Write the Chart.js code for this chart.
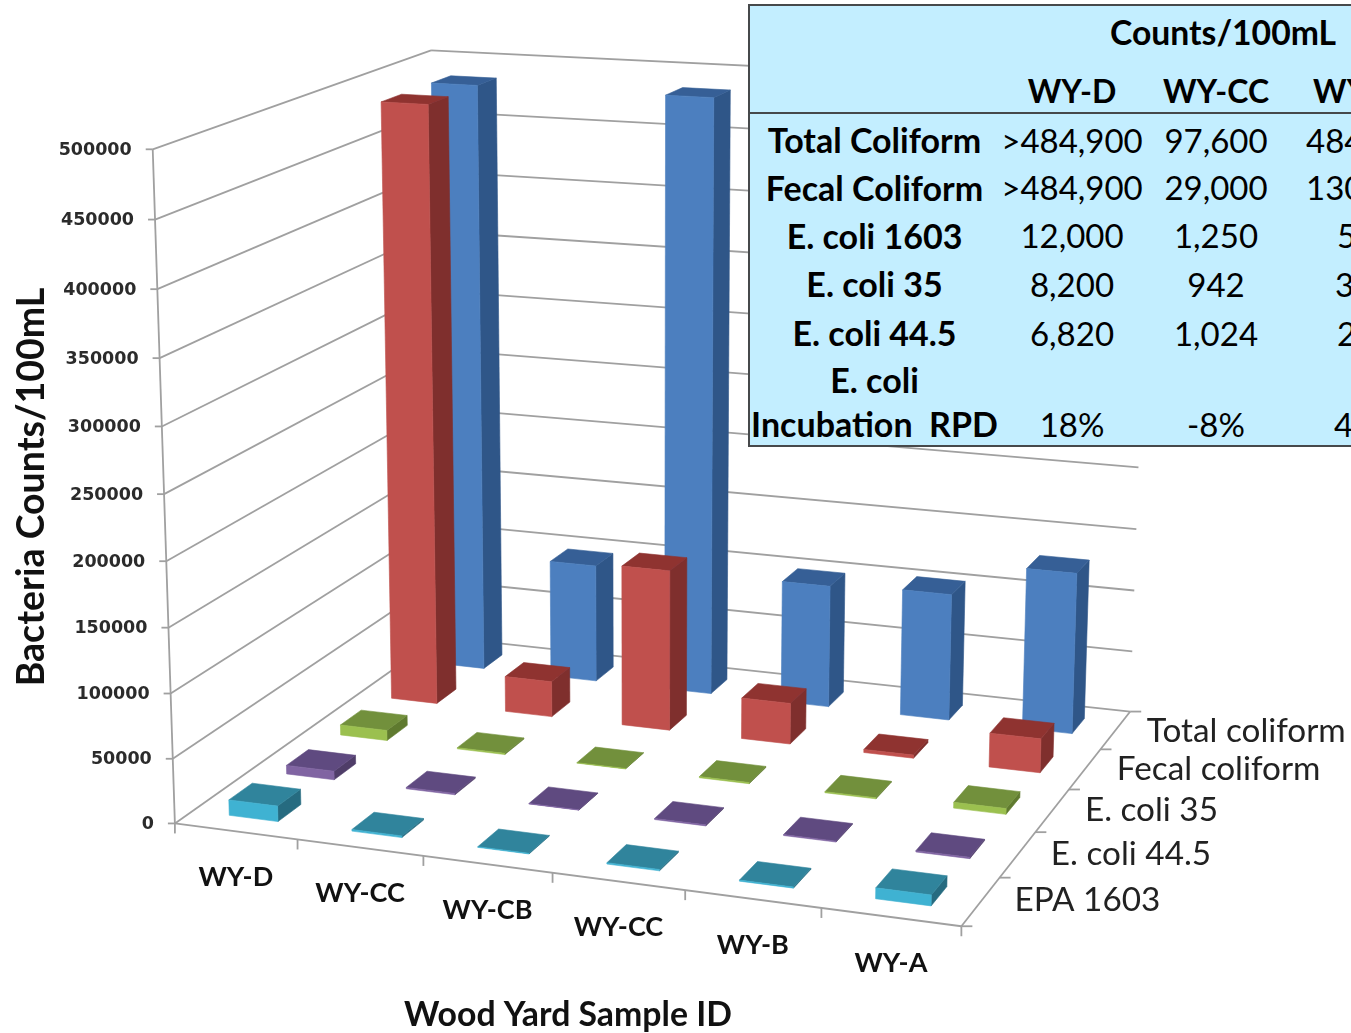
<!DOCTYPE html>
<html>
<head>
<meta charset="utf-8">
<title>Wood Yard bacteria counts</title>
<script src="https://cdn.jsdelivr.net/npm/chart.js@4"></script>
<style>
    html, body { margin: 0; padding: 0; background: #fff; overflow: hidden; }
    #wrap { position: relative; width: 1351px; height: 1033px; overflow: hidden; }
    #myChart { position: absolute; left: 0; top: 0; }
    #counts {
        position: absolute; left: 748px; top: 4px; width: 640px;
        border-collapse: collapse; table-layout: fixed;
        background: #c3eeff; border: 2px solid #46494b;
        font-family: Lato, sans-serif; font-size: 33px; color: #000;
    }
    #counts td { padding: 4px 0 0 0; text-align: center; white-space: nowrap; vertical-align: middle; }
    #counts td.name { font-weight: bold; font-size: 34px; }
    #counts td.cut { text-align: left; }
    #counts tr.head td { font-weight: bold; font-size: 32px; border-bottom: 2px solid #46494b; padding-top: 6px; }
    #counts tr.top td { font-weight: bold; font-size: 33.7px; text-align: left; padding: 0 0 4px 111px; }
</style>
</head>
<body>
<div id="wrap">
    <canvas id="myChart" width="1351" height="1033"></canvas>
    <table id="counts"></table>
</div>
<script>
var samples = ["WY-D", "WY-CC", "WY-CB", "WY-CC", "WY-B", "WY-A"];
var seriesNames = ["Total coliform", "Fecal coliform", "E. coli 35", "E. coli 44.5", "EPA 1603"];

var totalColiform = [484900, 97600, 484900, 100000, 103000, 130000];
var fecalColiform = [484900, 29000, 130000, 33000, 2500, 27000];
var ecoli35 = [8200, 942, 350, 900, 800, 4500];
var ecoli445 = [6820, 1024, 300, 800, 700, 1000];
var epa1603 = [12000, 1250, 500, 1000, 800, 8000];

var yTicksStep = 50000;
var yMax = 500000;

// faces of each box: front, side, top
var faceColors = [
    ["#4c7fbf", "#2f5688", "#365f96"],
    ["#c0504d", "#7f2f2d", "#8f3330"],
    ["#9bc04f", "#5f7a2f", "#72903c"],
    ["#8064a2", "#4f3d68", "#5f4a80"],
    ["#3fb2d2", "#266b80", "#30849c"]
];

// table in the corner
var tableTitle = "Counts/100mL";
var tableColumns = ["WY-D", "WY-CC", "WY"];
var tableRows = [
    ["Total Coliform", ">484,900", "97,600", "484"],
    ["Fecal Coliform", ">484,900", "29,000", "130"],
    ["E. coli 1603", "12,000", "1,250", "5"],
    ["E. coli 35", "8,200", "942", "3"],
    ["E. coli 44.5", "6,820", "1,024", "2"],
    ["E. coli", "", "", ""],
    ["Incubation\u00a0\u00a0RPD", "18%", "-8%", "4"]
];
var rowHeights = [48, 48, 48, 49, 49, 47, 44];
// the last column runs off the page, so its text starts at different places
var cutIndent = [19, 19, 50, 48, 50, 0, 47];

function buildTable() {
    var table = document.getElementById("counts");
    var html = '<colgroup><col style="width:250px"><col style="width:146px"><col style="width:142px"><col></colgroup>';
    html += '<tr class="top" style="height:57px"><td></td><td colspan="2">' + tableTitle + '</td><td></td></tr>';
    html += '<tr class="head" style="height:51px"><td></td>';
    tableColumns.forEach((c, i) => {
        html += '<td' + (i == 2 ? ' class="cut" style="padding-left:26px"' : '') + '>' + c + '</td>';
    });
    html += '</tr>';
    tableRows.forEach((row, r) => {
        var pad = r == 6 ? 0 : (r == 5 ? 2 : 4);
        html += '<tr style="height:' + rowHeights[r] + 'px">';
        html += '<td class="name" style="padding-top:' + pad + 'px">' + row[0] + '</td>';
        html += '<td style="padding-top:' + pad + 'px">' + row[1] + '</td>';
        html += '<td style="padding-top:' + pad + 'px">' + row[2] + '</td>';
        html += '<td class="cut" style="padding-top:' + pad + 'px;padding-left:' + cutIndent[r] + 'px">' + row[3] + '</td></tr>';
    });
    table.innerHTML = html;
}
buildTable();

// <==============3D projection==============>

// where the plot box corners land: [along samples, along depth, up], [px, py]
var boxCorners = [
    [[0, 0, 0], [175, 823]],
    [[1, 0, 0], [962, 926]],
    [[1, 1, 0], [1130, 712]],
    [[0, 1, 0], [439, 637]],
    [[0, 0, 1], [152, 150]],
    [[0, 1, 1], [432, 50]],
    [[1, 1, 1], [1151, 85]]
];

function solve(A, b) {
    var n = b.length;
    for (var i = 0; i < n; i++) {
        var best = i;
        for (var r = i + 1; r < n; r++) {
            if (Math.abs(A[r][i]) > Math.abs(A[best][i])) best = r;
        }
        [A[i], A[best]] = [A[best], A[i]];
        [b[i], b[best]] = [b[best], b[i]];
        for (var r = i + 1; r < n; r++) {
            var f = A[r][i] / A[i][i];
            for (var c = i; c < n; c++) A[r][c] -= f * A[i][c];
            b[r] -= f * b[i];
        }
    }
    var x = new Array(n).fill(0);
    for (var i = n - 1; i >= 0; i--) {
        var s = b[i];
        for (var c = i + 1; c < n; c++) s -= A[i][c] * x[c];
        x[i] = s / A[i][i];
    }
    return x;
}

// least squares fit of the 3x4 camera matrix
function fitCamera(corners) {
    var rows = [], rhs = [];
    corners.forEach(p => {
        var u = p[0][0], w = p[0][1], h = p[0][2], x = p[1][0], y = p[1][1];
        rows.push([u, w, h, 1, 0, 0, 0, 0, -x * u, -x * w, -x * h]); rhs.push(x);
        rows.push([0, 0, 0, 0, u, w, h, 1, -y * u, -y * w, -y * h]); rhs.push(y);
    });
    var N = [], t = [];
    for (var i = 0; i < 11; i++) {
        N.push(new Array(11).fill(0));
        t.push(0);
        rows.forEach((r, k) => {
            for (var j = 0; j < 11; j++) N[i][j] += r[i] * r[j];
            t[i] += r[i] * rhs[k];
        });
    }
    return solve(N, t);
}
var cam = fitCamera(boxCorners);

function project(u, w, h) {
    var d = cam[8] * u + cam[9] * w + cam[10] * h + 1;
    return {
        x: (cam[0] * u + cam[1] * w + cam[2] * h + cam[3]) / d,
        y: (cam[4] * u + cam[5] * w + cam[6] * h + cam[7]) / d
    };
}

function line(ctx, a, b) {
    ctx.beginPath();
    ctx.moveTo(a.x, a.y);
    ctx.lineTo(b.x, b.y);
    ctx.stroke();
}

function quad(ctx, pts, color) {
    ctx.fillStyle = color;
    ctx.strokeStyle = color;
    ctx.lineWidth = 0.6;
    ctx.beginPath();
    pts.forEach((p, i) => i ? ctx.lineTo(p.x, p.y) : ctx.moveTo(p.x, p.y));
    ctx.closePath();
    ctx.fill();
    ctx.stroke();
}

var depthShare = 0.4;

var box3d = {
    id: "box3d",
    beforeDatasetsDraw(chart) {
        var ctx = chart.ctx;
        var area = chart.chartArea;
        var xs = chart.scales.x, ys = chart.scales.y, ds = chart.scales.depth;
        var fx = px => (px - area.left) / (area.right - area.left);
        var fh = px => (area.bottom - px) / (area.bottom - area.top);
        var slot = 1 / seriesNames.length;
        var depthAt = i => fx(ds.getPixelForValue(seriesNames.length - 1 - i));

        ctx.save();
        ctx.strokeStyle = "#a0a0a0";
        ctx.lineWidth = 1.8;

        // walls
        ys.ticks.forEach(t => {
            var h = fh(ys.getPixelForValue(t.value));
            var a = project(0, 0, h), b = project(0, 1, h), c = project(1, 1, h);
            line(ctx, a, b);
            line(ctx, b, c);
            line(ctx, a, { x: a.x - 7, y: a.y });
        });
        line(ctx, project(0, 0, 0), project(0, 0, 1));

        // floor edge and its ticks
        line(ctx, project(0, 0, 0), project(1, 0, 0));
        line(ctx, project(1, 0, 0), project(1, 1, 0));
        for (var i = 0; i <= samples.length; i++) {
            var p = project(i / samples.length, 0, 0);
            line(ctx, p, { x: p.x, y: p.y + 10 });
        }
        for (var i = 0; i <= seriesNames.length; i++) {
            var p = project(1, i / seriesNames.length, 0);
            line(ctx, p, { x: p.x + 11, y: p.y });
        }

        // boxes, back row first
        chart.data.datasets.forEach((set, s) => {
            var meta = chart.getDatasetMeta(s);
            var w0 = depthAt(s) - slot * depthShare / 2;
            var w1 = depthAt(s) + slot * depthShare / 2;
            meta.data.forEach(bar => {
                var u0 = fx(bar.x - bar.width / 2);
                var u1 = fx(bar.x + bar.width / 2);
                var h = fh(bar.y);
                var colors = faceColors[s];
                quad(ctx, [project(u1, w0, 0), project(u1, w1, 0), project(u1, w1, h), project(u1, w0, h)], colors[1]);
                quad(ctx, [project(u0, w0, h), project(u1, w0, h), project(u1, w1, h), project(u0, w1, h)], colors[2]);
                quad(ctx, [project(u0, w0, 0), project(u1, w0, 0), project(u1, w0, h), project(u0, w0, h)], colors[0]);
            });
        });

        // value ticks
        ctx.fillStyle = "#2b2b2b";
        ctx.font = "bold 17.5px 'DejaVu Sans'";
        ctx.textAlign = "right";
        ctx.textBaseline = "middle";
        ys.ticks.forEach(t => {
            var p = project(0, 0, fh(ys.getPixelForValue(t.value)));
            ctx.fillText(String(t.value), p.x - 21, p.y + 1);
        });

        // sample names
        ctx.fillStyle = "#111";
        ctx.font = "bold 27px Lato";
        ctx.textAlign = "center";
        samples.forEach((name, i) => {
            var p = project(fx(xs.getPixelForValue(i)), 0, 0);
            ctx.fillText(name, p.x, p.y + 46);
        });

        // series names along the right edge
        ctx.fillStyle = "#222";
        ctx.font = "33.3px Lato";
        ctx.textAlign = "left";
        seriesNames.forEach((name, s) => {
            var w = depthAt(s);
            var p = project(1, w, 0);
            ctx.fillText(name, p.x + 34 - 3 * w, p.y - 1 + 2 * w);
        });

        // axis titles
        ctx.fillStyle = "#111";
        ctx.font = "bold 33.8px Lato";
        ctx.textAlign = "center";
        ctx.fillText("Wood Yard Sample ID", 568, 1015);
        ctx.font = "bold 37.5px Lato";
        ctx.translate(32, 487);
        ctx.rotate(-Math.PI / 2);
        ctx.fillText("Bacteria Counts/100mL", 0, 0);
        ctx.restore();
        return false;
    }
};

new Chart("myChart", {
    type: "bar",
    data: {
        labels: samples,
        datasets: [
            { label: seriesNames[0], data: totalColiform },
            { label: seriesNames[1], data: fecalColiform },
            { label: seriesNames[2], data: ecoli35 },
            { label: seriesNames[3], data: ecoli445 },
            { label: seriesNames[4], data: epa1603 }
        ]
    },
    options: {
        responsive: false,
        animation: false,
        events: [],
        grouped: false,
        barPercentage: 0.4,
        categoryPercentage: 1,
        layout: { padding: 0 },
        plugins: { legend: { display: false }, tooltip: { enabled: false } },
        scales: {
            x: { display: false, offset: true },
            y: { display: false, min: 0, max: yMax, ticks: { stepSize: yTicksStep } },
            depth: { display: false, type: "category", position: "bottom", offset: true, labels: seriesNames.slice().reverse() }
        }
    },
    plugins: [box3d]
});
</script>
</body>
</html>
